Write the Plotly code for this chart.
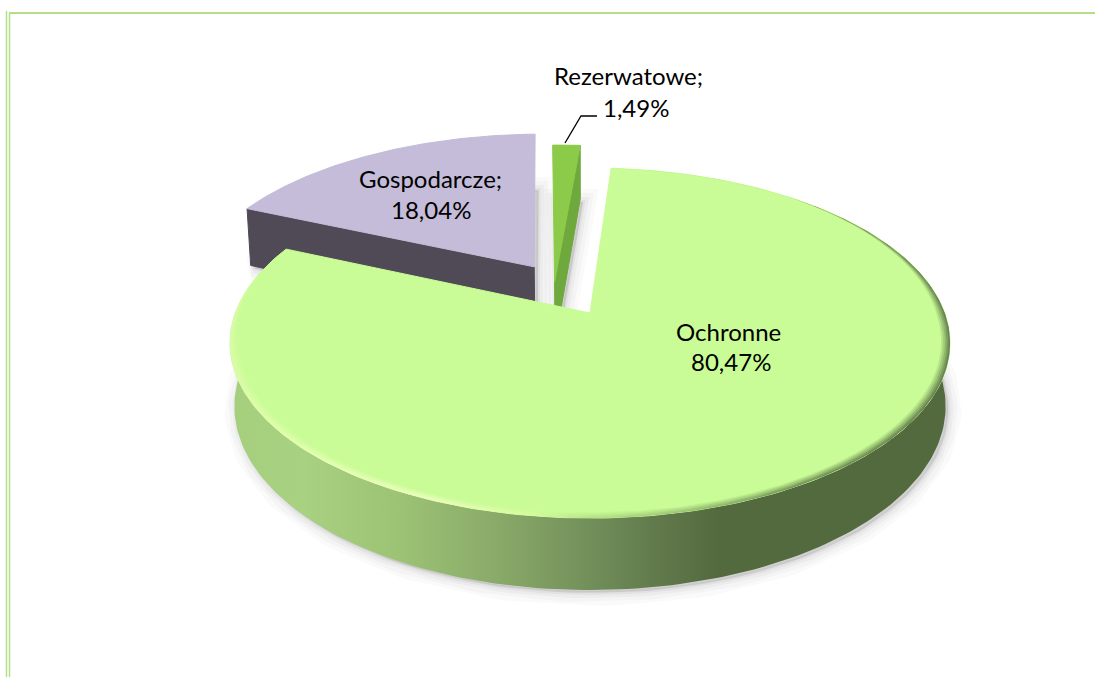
import numpy as np
import plotly.graph_objects as go

# ---- data ----
categories = ["Ochronne", "Gospodarcze", "Rezerwatowe"]
values = [80.47, 18.04, 1.49]
label_lines = ["Ochronne", "80,47%", "Gospodarcze;", "18,04%", "Rezerwatowe;", "1,49%"]
label_x = [728, 731, 430, 431, 628, 636]
label_y = [331, 361, 178, 209, 75, 107]
top_colors = ["#c9fc96", "#c4bcd8", "#8ccb4a"]
wall_colors = ["#536a3f", "#4f4a56", "#6fa83c"]

# ---- projection of the tilted pie ----
START_DEG = 4.0
CX, CY, R, B, K, D, KZ = 590, 313, 354.7, 169.9, 0.1715, 63, 0.012
# explosion of each slice, in disc units (horizontal, depth)
pull_c = [0.0, -0.165, -0.103]
pull_s = [0.0, 0.285, 0.19]


def project(c, s, z=0.0):
    den = 1 + K * s + KZ * z
    return CX + R * c / den, CY - B * s / den + D * z / den


def arc(a0, a1, pc=0.0, ps=0.0, z=0.0, r=1.0, n=240):
    th = np.radians(np.linspace(a0, a1, n))
    return project(pc + r * np.sin(th), ps + r * np.cos(th), z)


def poly(x, y, **kw):
    return go.Scatter(x=list(x), y=list(y), mode="lines", fill="toself", hoverinfo="skip",
                      showlegend=False, **kw)


fig = go.Figure()

# slice angle ranges derived from the values
total = sum(values)
angles = {}
a = START_DEG
for name, v in zip(categories, values):
    angles[name] = (a, a + 360 * v / total)
    a += 360 * v / total
idx = {n: i for i, n in enumerate(categories)}


def slice_outline(name, z=0.0):
    i = idx[name]
    a0, a1 = angles[name]
    ax, ay = arc(a0, a1, pull_c[i], pull_s[i], z)
    px, py = project(pull_c[i], pull_s[i], z)
    return np.r_[px, ax, px], np.r_[py, ay, py]


def radial_wall(name, ang):
    i = idx[name]
    sa, ca = np.sin(np.radians(ang)), np.cos(np.radians(ang))
    p0 = project(pull_c[i], pull_s[i])
    p1 = project(pull_c[i], pull_s[i], 1)
    c0 = project(pull_c[i] + sa, pull_s[i] + ca)
    c1 = project(pull_c[i] + sa, pull_s[i] + ca, 1)
    return poly([c0[0], p0[0], p1[0], c1[0], c0[0]], [c0[1], p0[1], p1[1], c1[1], c0[1]],
                fillcolor=wall_colors[i], line=dict(color=wall_colors[i], width=1))


# soft shadows under every slice
for name in ["Gospodarcze", "Rezerwatowe", "Ochronne"]:
    sx, sy = slice_outline(name, z=1.0)
    for w, alpha in [(26, 0.018), (18, 0.025), (10, 0.03), (4, 0.04)]:
        fig.add_trace(poly(sx + 3, sy + 3, fillcolor=f"rgba(0,0,0,{alpha})",
                           line=dict(color=f"rgba(0,0,0,{alpha})", width=w)))

# Gospodarcze
i = idx["Gospodarcze"]
fig.add_trace(radial_wall("Gospodarcze", angles["Gospodarcze"][0]))
x, y = slice_outline("Gospodarcze")
fig.add_trace(poly(x, y, fillcolor=top_colors[i], line=dict(color=top_colors[i], width=1)))

# Rezerwatowe
i = idx["Rezerwatowe"]
fig.add_trace(radial_wall("Rezerwatowe", angles["Rezerwatowe"][1]))
x, y = slice_outline("Rezerwatowe")
fig.add_trace(poly(x, y, fillcolor=top_colors[i], line=dict(color=top_colors[i], width=1)))

# Ochronne: outer wall with a horizontal gradient, then the top
i = idx["Ochronne"]
a0, a1 = angles["Ochronne"]
tx, ty = arc(a0, a1)
bx, by = arc(a0, a1, z=1)
fig.add_trace(go.Scatter(
    x=list(np.r_[tx, bx[::-1], tx[0]]), y=list(np.r_[ty, by[::-1], ty[0]]),
    mode="lines", fill="toself", line=dict(width=0), hoverinfo="skip", showlegend=False,
    fillgradient=dict(type="horizontal", colorscale=[
        [0.0, "#a5cf7d"], [0.1, "#a8d181"], [0.24, "#9cc274"], [0.38, "#88a868"],
        [0.515, "#6f8c58"], [0.6, "#60784a"], [0.68, "#536a3f"], [1.0, "#536a3f"]])))
x, y = slice_outline("Ochronne")
fig.add_trace(poly(x, y, fillcolor=top_colors[i], line=dict(color=top_colors[i], width=1)))

# bevel along the rim of the top face, tapering at both ends
rim = [[0.0, "rgba(222,250,170,1)"], [0.12, "rgba(235,255,185,1)"], [0.28, "rgba(245,255,200,1)"],
       [0.42, "rgba(218,250,160,1)"], [0.5, "rgba(178,220,132,1)"], [0.65, "rgba(138,175,105,1)"],
       [0.8, "rgba(95,122,72,1)"], [1.0, "rgba(85,108,65,1)"]]
th_deg = np.linspace(40, a1 - 10, 300)
taper = np.clip((th_deg - 40) / 50, 0, 1) * np.clip((a1 - 10 - th_deg) / 30, 0, 1)
th = np.radians(th_deg)
for width, op in [(0.024, 0.15), (0.019, 0.2), (0.014, 0.25), (0.009, 0.35), (0.004, 0.5)]:
    ox, oy = project(np.sin(th), np.cos(th))
    rr = 1 - width * taper
    ix, iy = project(rr * np.sin(th), rr * np.cos(th))
    fig.add_trace(go.Scatter(
        x=list(np.r_[ox, ix[::-1], ox[0]]), y=list(np.r_[oy, iy[::-1], oy[0]]),
        mode="lines", fill="toself", line=dict(width=0), opacity=op, hoverinfo="skip",
        showlegend=False, fillgradient=dict(type="horizontal", colorscale=rim)))

# leader line of the small slice
fig.add_trace(go.Scatter(x=[565, 581, 597], y=[143, 116, 116], mode="lines",
                         line=dict(color="#000000", width=1.3), hoverinfo="skip", showlegend=False))

for t, lx, ly in zip(label_lines, label_x, label_y):
    fig.add_annotation(x=lx, y=ly, text=t, showarrow=False, xanchor="center", yanchor="middle",
                       font=dict(family="Lato", size=24, color="#000000"))

frame = "#b4df88"
shapes = [
    dict(type="line", x0=9, x1=1095, y0=13, y1=13, line=dict(color=frame, width=2)),
    dict(type="line", x0=6.5, x1=6.5, y0=11, y1=677, line=dict(color=frame, width=1.5)),
    dict(type="line", x0=9.5, x1=9.5, y0=13, y1=677, line=dict(color=frame, width=1.5)),
]
fig.update_layout(
    width=1095, height=677, margin=dict(l=0, r=0, t=0, b=0), autosize=False,
    paper_bgcolor="#ffffff", plot_bgcolor="#ffffff", showlegend=False, shapes=shapes,
    xaxis=dict(range=[0, 1095], visible=False, fixedrange=True),
    yaxis=dict(range=[677, 0], visible=False, fixedrange=True),
)
fig.write_html("out.html", config={"displayModeBar": False},
               post_script="document.body.style.margin='0';document.body.style.overflow='hidden';")
